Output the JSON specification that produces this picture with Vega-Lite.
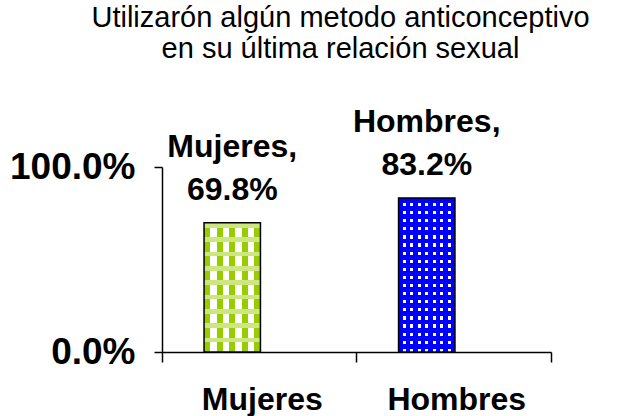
{
  "$schema": "https://vega.github.io/schema/vega-lite/v6.json",
  "width": 389,
  "height": 185,
  "autosize": "none",
  "padding": {"left": 162, "top": 167, "right": 70, "bottom": 64},
  "background": "white",
  "title": {
    "text": ["Utilizarón algún metodo anticonceptivo", "en su última relación sexual"],
    "font": "Liberation Sans",
    "fontSize": 29,
    "fontWeight": "normal",
    "lineHeight": 31,
    "color": "black",
    "anchor": "middle",
    "frame": "group",
    "dx": -16,
    "offset": 42
  },
  "data": {
    "values": [
      {"sexo": "Mujeres", "pct": 0.698, "label": ["Mujeres,", "69.8%"]},
      {"sexo": "Hombres", "pct": 0.832, "label": ["Hombres,", "83.2%"]}
    ]
  },
  "encoding": {
    "x": {
      "field": "sexo",
      "type": "nominal",
      "sort": ["Mujeres", "Hombres"],
      "scale": {"paddingInner": 0, "paddingOuter": 0},
      "axis": {
        "title": null,
        "labelAngle": 0,
        "bandPosition": 1,
        "tickExtra": true,
        "labelOffset": 3,
        "tickSize": 10,
        "labelPadding": 22,
        "labelFont": "Liberation Sans",
        "labelFontSize": 32,
        "labelFontWeight": "bold",
        "labelColor": "black",
        "domainColor": "black",
        "tickColor": "black",
        "domainWidth": 1.5,
        "tickWidth": 1.5
      }
    },
    "y": {
      "field": "pct",
      "type": "quantitative",
      "scale": {"domain": [0, 1], "nice": false},
      "axis": {
        "title": null,
        "values": [0, 1],
        "format": ".1%",
        "grid": false,
        "tickSize": 8,
        "labelPadding": 19,
        "labelFont": "Liberation Sans",
        "labelFontSize": 37,
        "labelFontWeight": "bold",
        "labelColor": "black",
        "domainColor": "black",
        "tickColor": "black",
        "domainWidth": 1.5,
        "tickWidth": 1.5
      }
    }
  },
  "layer": [
    {
      "transform": [{"filter": "datum.sexo === 'Mujeres'"}],
      "mark": {
        "type": "bar",
        "width": {"band": 0.29},
        "xOffset": -27,
        "fill": {
          "gradient": "linear", "x1": 0, "y1": 0, "x2": 1, "y2": 0,
          "stops": [
            {"offset": 0, "color": "#99CC00"}, {"offset": 0.111, "color": "#99CC00"},
            {"offset": 0.111, "color": "#FFFFFF"}, {"offset": 0.222, "color": "#FFFFFF"},
            {"offset": 0.222, "color": "#99CC00"}, {"offset": 0.333, "color": "#99CC00"},
            {"offset": 0.333, "color": "#FFFFFF"}, {"offset": 0.444, "color": "#FFFFFF"},
            {"offset": 0.444, "color": "#99CC00"}, {"offset": 0.556, "color": "#99CC00"},
            {"offset": 0.556, "color": "#FFFFFF"}, {"offset": 0.667, "color": "#FFFFFF"},
            {"offset": 0.667, "color": "#99CC00"}, {"offset": 0.778, "color": "#99CC00"},
            {"offset": 0.778, "color": "#FFFFFF"}, {"offset": 0.889, "color": "#FFFFFF"},
            {"offset": 0.889, "color": "#99CC00"}, {"offset": 1, "color": "#99CC00"}
          ]
        }
      }
    },
    {
      "transform": [{"filter": "datum.sexo === 'Mujeres'"}],
      "mark": {
        "type": "bar",
        "width": {"band": 0.29},
        "xOffset": -27,
        "stroke": "black",
        "strokeWidth": 1.5,
        "fill": {
          "gradient": "linear", "x1": 0, "y1": 0, "x2": 0, "y2": 1,
          "stops": [
            {"offset": 0, "color": "rgba(204,230,128,1)"}, {"offset": 0.037, "color": "rgba(204,230,128,1)"},
            {"offset": 0.037, "color": "rgba(204,230,128,0)"}, {"offset": 0.111, "color": "rgba(204,230,128,0)"},
            {"offset": 0.111, "color": "rgba(204,230,128,1)"}, {"offset": 0.148, "color": "rgba(204,230,128,1)"},
            {"offset": 0.148, "color": "rgba(204,230,128,0)"}, {"offset": 0.222, "color": "rgba(204,230,128,0)"},
            {"offset": 0.222, "color": "rgba(204,230,128,1)"}, {"offset": 0.259, "color": "rgba(204,230,128,1)"},
            {"offset": 0.259, "color": "rgba(204,230,128,0)"}, {"offset": 0.333, "color": "rgba(204,230,128,0)"},
            {"offset": 0.333, "color": "rgba(204,230,128,1)"}, {"offset": 0.370, "color": "rgba(204,230,128,1)"},
            {"offset": 0.370, "color": "rgba(204,230,128,0)"}, {"offset": 0.444, "color": "rgba(204,230,128,0)"},
            {"offset": 0.444, "color": "rgba(204,230,128,1)"}, {"offset": 0.481, "color": "rgba(204,230,128,1)"},
            {"offset": 0.481, "color": "rgba(204,230,128,0)"}, {"offset": 0.556, "color": "rgba(204,230,128,0)"},
            {"offset": 0.556, "color": "rgba(204,230,128,1)"}, {"offset": 0.593, "color": "rgba(204,230,128,1)"},
            {"offset": 0.593, "color": "rgba(204,230,128,0)"}, {"offset": 0.667, "color": "rgba(204,230,128,0)"},
            {"offset": 0.667, "color": "rgba(204,230,128,1)"}, {"offset": 0.704, "color": "rgba(204,230,128,1)"},
            {"offset": 0.704, "color": "rgba(204,230,128,0)"}, {"offset": 0.778, "color": "rgba(204,230,128,0)"},
            {"offset": 0.778, "color": "rgba(204,230,128,1)"}, {"offset": 0.815, "color": "rgba(204,230,128,1)"},
            {"offset": 0.815, "color": "rgba(204,230,128,0)"}, {"offset": 0.889, "color": "rgba(204,230,128,0)"},
            {"offset": 0.889, "color": "rgba(204,230,128,1)"}, {"offset": 0.926, "color": "rgba(204,230,128,1)"},
            {"offset": 0.926, "color": "rgba(204,230,128,0)"}, {"offset": 1, "color": "rgba(204,230,128,0)"}
          ]
        }
      }
    },
    {
      "transform": [{"filter": "datum.sexo === 'Hombres'"}],
      "mark": {
        "type": "bar",
        "width": {"band": 0.29},
        "xOffset": -27,
        "fill": {
          "gradient": "linear", "x1": 0, "y1": 0, "x2": 1, "y2": 0,
          "stops": [
            {"offset": 0, "color": "#0000FF"}, {"offset": 0.075, "color": "#0000FF"},
            {"offset": 0.075, "color": "#FFFFFF"}, {"offset": 0.132, "color": "#FFFFFF"},
            {"offset": 0.132, "color": "#0000FF"}, {"offset": 0.207, "color": "#0000FF"},
            {"offset": 0.207, "color": "#FFFFFF"}, {"offset": 0.264, "color": "#FFFFFF"},
            {"offset": 0.264, "color": "#0000FF"}, {"offset": 0.339, "color": "#0000FF"},
            {"offset": 0.339, "color": "#FFFFFF"}, {"offset": 0.396, "color": "#FFFFFF"},
            {"offset": 0.396, "color": "#0000FF"}, {"offset": 0.471, "color": "#0000FF"},
            {"offset": 0.471, "color": "#FFFFFF"}, {"offset": 0.529, "color": "#FFFFFF"},
            {"offset": 0.529, "color": "#0000FF"}, {"offset": 0.604, "color": "#0000FF"},
            {"offset": 0.604, "color": "#FFFFFF"}, {"offset": 0.661, "color": "#FFFFFF"},
            {"offset": 0.661, "color": "#0000FF"}, {"offset": 0.736, "color": "#0000FF"},
            {"offset": 0.736, "color": "#FFFFFF"}, {"offset": 0.793, "color": "#FFFFFF"},
            {"offset": 0.793, "color": "#0000FF"}, {"offset": 0.868, "color": "#0000FF"},
            {"offset": 0.868, "color": "#FFFFFF"}, {"offset": 0.925, "color": "#FFFFFF"},
            {"offset": 0.925, "color": "#0000FF"}, {"offset": 1, "color": "#0000FF"}
          ]
        }
      }
    },
    {
      "transform": [{"filter": "datum.sexo === 'Hombres'"}],
      "mark": {
        "type": "bar",
        "width": {"band": 0.29},
        "xOffset": -27,
        "stroke": "black",
        "strokeWidth": 1.5,
        "fill": {
          "gradient": "linear", "x1": 0, "y1": 0, "x2": 0, "y2": 1,
          "stops": [
            {"offset": 0, "color": "rgba(0,0,255,1)"}, {"offset": 0.0316, "color": "rgba(0,0,255,1)"},
            {"offset": 0.0316, "color": "rgba(0,0,255,0)"}, {"offset": 0.0526, "color": "rgba(0,0,255,0)"},
            {"offset": 0.0526, "color": "rgba(0,0,255,1)"}, {"offset": 0.0842, "color": "rgba(0,0,255,1)"},
            {"offset": 0.0842, "color": "rgba(0,0,255,0)"}, {"offset": 0.1053, "color": "rgba(0,0,255,0)"},
            {"offset": 0.1053, "color": "rgba(0,0,255,1)"}, {"offset": 0.1369, "color": "rgba(0,0,255,1)"},
            {"offset": 0.1369, "color": "rgba(0,0,255,0)"}, {"offset": 0.1579, "color": "rgba(0,0,255,0)"},
            {"offset": 0.1579, "color": "rgba(0,0,255,1)"}, {"offset": 0.1895, "color": "rgba(0,0,255,1)"},
            {"offset": 0.1895, "color": "rgba(0,0,255,0)"}, {"offset": 0.2105, "color": "rgba(0,0,255,0)"},
            {"offset": 0.2105, "color": "rgba(0,0,255,1)"}, {"offset": 0.2421, "color": "rgba(0,0,255,1)"},
            {"offset": 0.2421, "color": "rgba(0,0,255,0)"}, {"offset": 0.2632, "color": "rgba(0,0,255,0)"},
            {"offset": 0.2632, "color": "rgba(0,0,255,1)"}, {"offset": 0.2948, "color": "rgba(0,0,255,1)"},
            {"offset": 0.2948, "color": "rgba(0,0,255,0)"}, {"offset": 0.3158, "color": "rgba(0,0,255,0)"},
            {"offset": 0.3158, "color": "rgba(0,0,255,1)"}, {"offset": 0.3474, "color": "rgba(0,0,255,1)"},
            {"offset": 0.3474, "color": "rgba(0,0,255,0)"}, {"offset": 0.3684, "color": "rgba(0,0,255,0)"},
            {"offset": 0.3684, "color": "rgba(0,0,255,1)"}, {"offset": 0.4000, "color": "rgba(0,0,255,1)"},
            {"offset": 0.4000, "color": "rgba(0,0,255,0)"}, {"offset": 0.4211, "color": "rgba(0,0,255,0)"},
            {"offset": 0.4211, "color": "rgba(0,0,255,1)"}, {"offset": 0.4527, "color": "rgba(0,0,255,1)"},
            {"offset": 0.4527, "color": "rgba(0,0,255,0)"}, {"offset": 0.4737, "color": "rgba(0,0,255,0)"},
            {"offset": 0.4737, "color": "rgba(0,0,255,1)"}, {"offset": 0.5053, "color": "rgba(0,0,255,1)"},
            {"offset": 0.5053, "color": "rgba(0,0,255,0)"}, {"offset": 0.5263, "color": "rgba(0,0,255,0)"},
            {"offset": 0.5263, "color": "rgba(0,0,255,1)"}, {"offset": 0.5579, "color": "rgba(0,0,255,1)"},
            {"offset": 0.5579, "color": "rgba(0,0,255,0)"}, {"offset": 0.5789, "color": "rgba(0,0,255,0)"},
            {"offset": 0.5789, "color": "rgba(0,0,255,1)"}, {"offset": 0.6105, "color": "rgba(0,0,255,1)"},
            {"offset": 0.6105, "color": "rgba(0,0,255,0)"}, {"offset": 0.6316, "color": "rgba(0,0,255,0)"},
            {"offset": 0.6316, "color": "rgba(0,0,255,1)"}, {"offset": 0.6632, "color": "rgba(0,0,255,1)"},
            {"offset": 0.6632, "color": "rgba(0,0,255,0)"}, {"offset": 0.6842, "color": "rgba(0,0,255,0)"},
            {"offset": 0.6842, "color": "rgba(0,0,255,1)"}, {"offset": 0.7158, "color": "rgba(0,0,255,1)"},
            {"offset": 0.7158, "color": "rgba(0,0,255,0)"}, {"offset": 0.7368, "color": "rgba(0,0,255,0)"},
            {"offset": 0.7368, "color": "rgba(0,0,255,1)"}, {"offset": 0.7684, "color": "rgba(0,0,255,1)"},
            {"offset": 0.7684, "color": "rgba(0,0,255,0)"}, {"offset": 0.7895, "color": "rgba(0,0,255,0)"},
            {"offset": 0.7895, "color": "rgba(0,0,255,1)"}, {"offset": 0.8211, "color": "rgba(0,0,255,1)"},
            {"offset": 0.8211, "color": "rgba(0,0,255,0)"}, {"offset": 0.8421, "color": "rgba(0,0,255,0)"},
            {"offset": 0.8421, "color": "rgba(0,0,255,1)"}, {"offset": 0.8737, "color": "rgba(0,0,255,1)"},
            {"offset": 0.8737, "color": "rgba(0,0,255,0)"}, {"offset": 0.8947, "color": "rgba(0,0,255,0)"},
            {"offset": 0.8947, "color": "rgba(0,0,255,1)"}, {"offset": 0.9263, "color": "rgba(0,0,255,1)"},
            {"offset": 0.9263, "color": "rgba(0,0,255,0)"}, {"offset": 0.9474, "color": "rgba(0,0,255,0)"},
            {"offset": 0.9474, "color": "rgba(0,0,255,1)"}, {"offset": 0.9790, "color": "rgba(0,0,255,1)"},
            {"offset": 0.9790, "color": "rgba(0,0,255,0)"}, {"offset": 1, "color": "rgba(0,0,255,0)"}
          ]
        }
      }
    },
    {
      "mark": {
        "type": "text",
        "xOffset": -27,
        "baseline": "bottom",
        "align": "center",
        "dy": -59,
        "font": "Liberation Sans",
        "fontSize": 32,
        "fontWeight": "bold",
        "lineHeight": 43,
        "color": "black"
      },
      "encoding": {"text": {"field": "label"}}
    }
  ],
  "config": {"view": {"stroke": null}}
}
